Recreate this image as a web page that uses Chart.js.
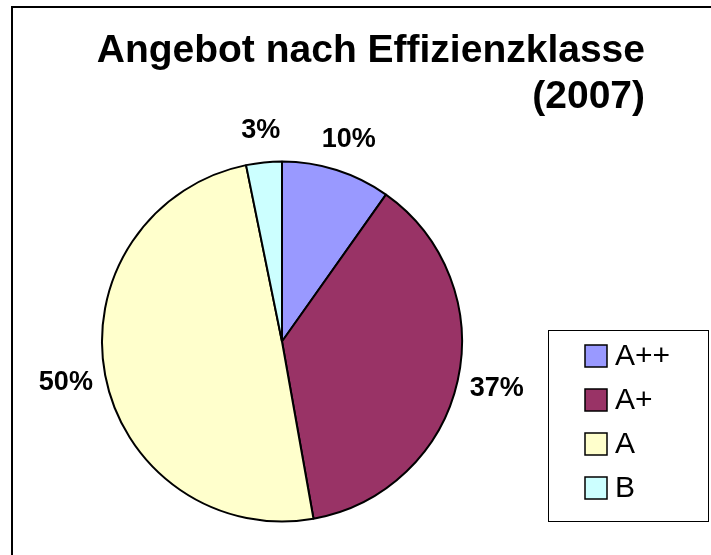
<!DOCTYPE html>
<html>
<head>
<meta charset="utf-8">
<script src="https://cdn.jsdelivr.net/npm/chart.js@4.4.1/dist/chart.umd.min.js"></script>
<style>
  html, body { margin: 0; padding: 0; background: #fff; }
  #wrap { width: 711px; height: 555px; position: relative; }
</style>
</head>
<body>
<div id="wrap"><canvas id="effChart"></canvas></div>
<script>
// chart data
const titleLines = ['Angebot nach Effizienzklasse', '(2007)'];
const classLabels = ['A++', 'A+', 'A', 'B'];
const shareValues = [9.8, 37.4, 49.6, 3.2];
const sliceColors = ['#9999FF', '#993366', '#FFFFCC', '#CCFFFF'];

const FONT = '"Liberation Sans", Arial, sans-serif';

// frame + title + legend box, drawn around the pie
const decorPlugin = {
  id: 'decor',
  beforeDraw(chart) {
    const c = chart.ctx;
    c.save();
    c.fillStyle = '#fff';
    c.fillRect(0, 0, chart.width, chart.height);
    c.strokeStyle = '#000';
    c.lineWidth = 2;
    c.strokeRect(12, 7, 700, 560);
    c.restore();
  },
  afterDraw(chart) {
    const c = chart.ctx;
    c.save();
    // title, both lines right aligned
    c.fillStyle = '#000';
    c.font = 'bold 39px ' + FONT;
    c.textAlign = 'right';
    c.textBaseline = 'alphabetic';
    c.fillText(titleLines[0], 645, 62);
    c.fillText(titleLines[1], 645, 108);

    // legend
    c.lineWidth = 1;
    c.strokeStyle = '#000';
    c.strokeRect(548.5, 330.5, 160, 191);
    c.font = '30px ' + FONT;
    c.textAlign = 'left';
    c.textBaseline = 'middle';
    classLabels.forEach((lab, i) => {
      const y = 356 + i * 44;
      c.fillStyle = sliceColors[i];
      c.fillRect(585, y - 11, 22, 22);
      c.lineWidth = 1.5;
      c.strokeRect(585, y - 11, 22, 22);
      c.fillStyle = '#000';
      c.fillText(lab, 615, y + 1);
    });
    c.restore();
  }
};

// percentage labels outside each slice
const pctPlugin = {
  id: 'pctLabels',
  afterDatasetsDraw(chart) {
    const c = chart.ctx;
    const meta = chart.getDatasetMeta(0);
    const total = shareValues.reduce((a, b) => a + b, 0);
    c.save();
    c.font = 'bold 27px ' + FONT;
    c.fillStyle = '#000';
    c.textAlign = 'center';
    c.textBaseline = 'middle';
    meta.data.forEach((arc, i) => {
      const p = arc.getProps(['x', 'y', 'startAngle', 'endAngle', 'outerRadius'], true);
      const mid = (p.startAngle + p.endAngle) / 2;
      const txt = Math.round(shareValues[i] / total * 100) + '%';
      const w = c.measureText(txt).width;
      const dx = Math.cos(mid), dy = Math.sin(mid);
      const x = p.x + dx * (p.outerRadius + 13 + w / 2);
      const y = p.y + dy * (p.outerRadius + 33);
      c.fillText(txt, x, y + 1);
    });
    c.restore();
  }
};

new Chart(document.getElementById('effChart'), {
  type: 'pie',
  data: {
    labels: classLabels,
    datasets: [{
      data: shareValues,
      backgroundColor: sliceColors,
      borderColor: '#000',
      borderWidth: 2,
      radius: 180
    }]
  },
  options: {
    responsive: true,
    maintainAspectRatio: false,
    animation: false,
    layout: { padding: { left: 90, right: 237, top: 150, bottom: 22 } },
    plugins: {
      legend: { display: false },
      title: { display: false },
      tooltip: { enabled: false }
    }
  },
  plugins: [decorPlugin, pctPlugin]
});
</script>
</body>
</html>
